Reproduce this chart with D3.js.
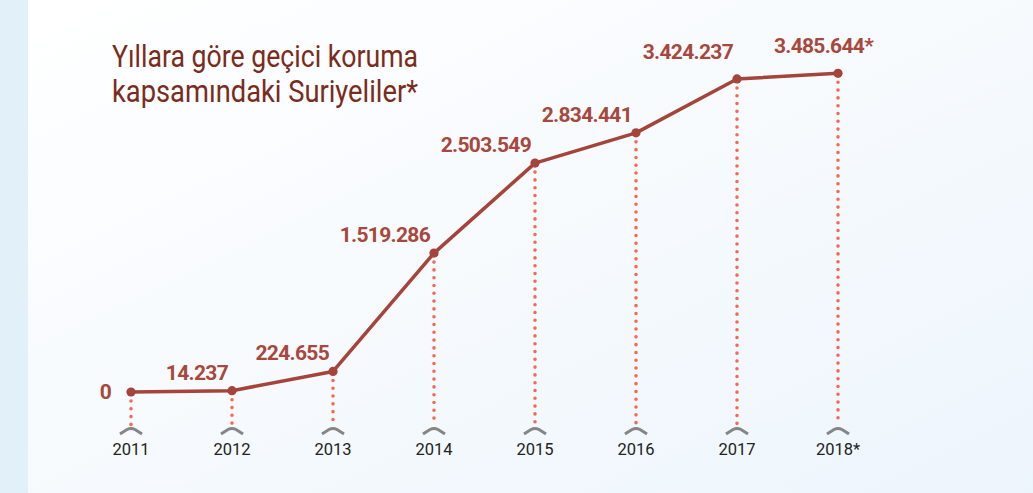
<!DOCTYPE html>
<html>
<head>
<meta charset="utf-8">
<script src="https://cdn.jsdelivr.net/npm/d3@7"></script>
<style>
  html, body { margin: 0; padding: 0; }
  body { width: 1033px; height: 493px; overflow: hidden; }
</style>
</head>
<body>
<div id="chart"></div>
<script>
// data
const years = ["2011", "2012", "2013", "2014", "2015", "2016", "2017", "2018*"];
const values = [0, 14237, 224655, 1519286, 2503549, 2834441, 3424237, 3485644];
const valueLabels = ["0", "14.237", "224.655", "1.519.286", "2.503.549", "2.834.441", "3.424.237", "3.485.644*"];
const titleLines = ["Yıllara göre geçici koruma", "kapsamındaki Suriyeliler*"];

const width = 1033, height = 493;
const svg = d3.select("#chart").append("svg")
  .attr("width", width)
  .attr("height", height);

// background
const defs = svg.append("defs");
const grad = defs.append("linearGradient")
  .attr("id", "bg")
  .attr("x1", "0%").attr("y1", "0%")
  .attr("x2", "100%").attr("y2", "100%");
grad.append("stop").attr("offset", "0%").attr("stop-color", "#ffffff");
grad.append("stop").attr("offset", "100%").attr("stop-color", "#edf5fc");

svg.append("rect").attr("width", width).attr("height", height).attr("fill", "#e2f0f9");
svg.append("rect").attr("x", 28).attr("width", width - 28).attr("height", height).attr("fill", "url(#bg)");

// title
svg.append("g")
  .selectAll("text")
  .data(titleLines)
  .join("text")
  .attr("x", 112)
  .attr("y", (d, i) => 67 + i * 35)
  .attr("font-family", "Roboto, sans-serif")
  .attr("font-size", 31)
  .attr("fill", "#7a2c1c")
  .attr("textLength", 306)
  .attr("lengthAdjust", "spacingAndGlyphs")
  .text(d => d);

// scales
const x = d3.scalePoint().domain(years).range([131, 838]);
const y = d3.scaleLinear().domain([0, 3500000]).range([392, 72]);

const pts = years.map((yr, i) => ({ year: yr, value: values[i], label: valueLabels[i], i: i }));

// dotted drop lines
svg.append("g")
  .selectAll("line")
  .data(pts)
  .join("line")
  .attr("x1", d => x(d.year))
  .attr("x2", d => x(d.year))
  .attr("y1", d => y(d.value) + 9)
  .attr("y2", 425)
  .attr("stroke", "#f26b52")
  .attr("stroke-width", 3.6)
  .attr("stroke-linecap", "round")
  .attr("stroke-dasharray", "0 7.8");

// little chevrons above the years
svg.append("g")
  .selectAll("path")
  .data(years)
  .join("path")
  .attr("d", d => {
    const cx = x(d);
    return `M${cx - 11},434 L${cx - 4},429.5 Q${cx},427.5 ${cx + 4},429.5 L${cx + 11},434`;
  })
  .attr("fill", "none")
  .attr("stroke", "#858585")
  .attr("stroke-width", 3);

// year labels
svg.append("g")
  .selectAll("text")
  .data(years)
  .join("text")
  .attr("x", d => x(d))
  .attr("y", 455)
  .attr("text-anchor", "middle")
  .attr("font-family", "Roboto, sans-serif")
  .attr("font-size", 16.5)
  .attr("fill", "#222")
  .text(d => d);

// line
const line = d3.line()
  .x(d => x(d.year))
  .y(d => y(d.value));

svg.append("path")
  .datum(pts)
  .attr("d", line)
  .attr("fill", "none")
  .attr("stroke", "#a5443a")
  .attr("stroke-width", 3.5)
  .attr("stroke-linejoin", "round");

svg.append("g")
  .selectAll("circle")
  .data(pts)
  .join("circle")
  .attr("cx", d => x(d.year))
  .attr("cy", d => y(d.value))
  .attr("r", 4.6)
  .attr("fill", "#a5443a");

// value labels
const last = pts.length - 1;
svg.append("g")
  .selectAll("text")
  .data(pts)
  .join("text")
  .attr("x", d => {
    if (d.i === 0) return x(d.year) - 20;
    if (d.i === last) return x(d.year) + 35;
    return x(d.year) - 4;
  })
  .attr("y", d => {
    if (d.i === 0) return y(d.value) + 7;
    if (d.i >= last - 1) return y(d.value) - 20;
    return y(d.value) - 11;
  })
  .attr("text-anchor", "end")
  .attr("font-family", "Roboto, sans-serif")
  .attr("font-weight", "bold")
  .attr("font-size", 21)
  .attr("letter-spacing", -0.7)
  .attr("fill", "#a8473b")
  .text(d => d.label);
</script>
</body>
</html>
